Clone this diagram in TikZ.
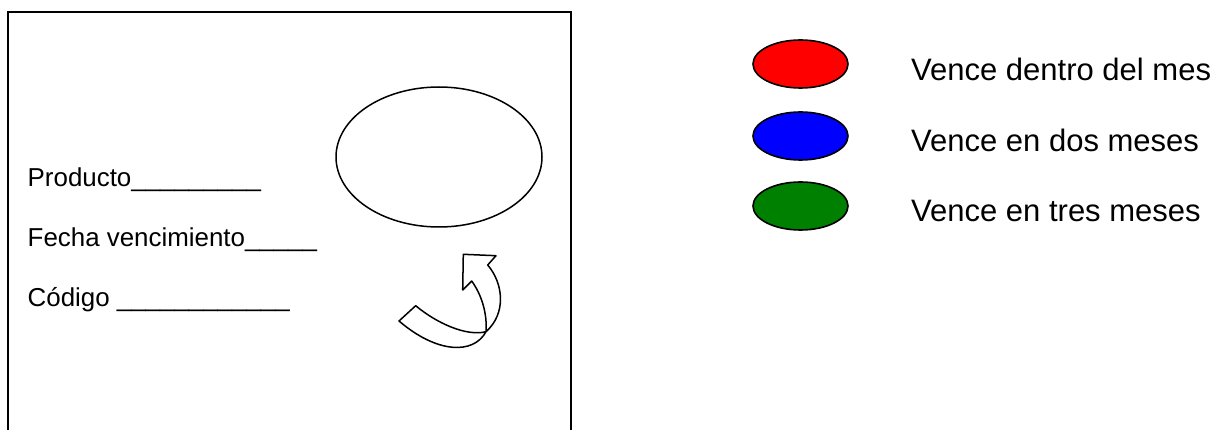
\documentclass[tikz,border=0pt]{standalone}
\usepackage{fontspec}
\setmainfont{Liberation Sans}
\usetikzlibrary{shapes.geometric}
\tikzset{
  lefttext/.style={anchor=base west, inner sep=0pt, font=\fontsize{25.9}{30}\selectfont},
  legtext/.style={anchor=base west, inner sep=0pt, font=\fontsize{31}{36}\selectfont},
  legdot/.style={ellipse, draw=black, line width=1.6pt, minimum width=95pt, minimum height=48pt, inner sep=0pt},
  bigoval/.style={ellipse, draw=black, line width=1.5pt, minimum width=206pt, minimum height=140pt, inner sep=0pt},
  frame/.style={draw=black, line width=2pt},
  arrowshape/.style={draw=black, line width=1.5pt, line join=round, fill=white}
}
\definecolor{legred}{RGB}{255,0,0}
\definecolor{legblue}{RGB}{0,0,255}
\definecolor{leggreen}{RGB}{0,128,0}
\begin{document}
\begin{tikzpicture}[x=1pt,y=-1pt]
\useasboundingbox (0,0) rectangle (1218,430);
% card frame (open at the bottom)
\draw[frame] (8,440) -- (8,12) -- (571,12) -- (571,440);
% fields
\node[lefttext] (prod) at (27.5,187) {Producto\_\_\_\_\_\_\_\_\_};
\node[lefttext] (fecha) at (27.5,247) {Fecha vencimiento\_\_\_\_\_};
\node[lefttext] (cod) at (27.5,306) {Código \_\_\_\_\_\_\_\_\_\_\_\_};
% big oval
\node[bigoval] (oval) at (439,157) {};
% curved arrow
\coordinate (A) at (399.0,321.0);
\coordinate (B) at (415.7,305.7);
\coordinate (P) at (486.0,331.7);
\coordinate (IN) at (471.7,281.0);
\coordinate (HBL) at (462.7,290.0);
\coordinate (HTL) at (463.3,254.3);
\coordinate (HTR) at (496.0,255.7);
\coordinate (ON) at (487.7,265.0);
\path[arrowshape] (A) -- (B)
  .. controls (436.7,323.3) and (466.7,336.7) .. (P)
  .. controls (487.3,313.3) and (481.7,295.0) .. (IN)
  -- (HBL) -- (HTL) -- (HTR) -- (ON)
  .. controls (503.3,283.3) and (506.7,313.3) .. (P)
  .. controls (473.3,355.0) and (436.7,353.3) .. (A) -- cycle;
% legend
\node[legdot, fill=legred] (dred) at (800.5,64) {};
\node[legdot, fill=legblue] (dblue) at (800.5,136) {};
\node[legdot, fill=leggreen] (dgreen) at (800.5,206) {};
\node[legtext] (tred) at (911,81) {Vence dentro del mes};
\node[legtext] (tblue) at (911,152) {Vence en dos meses};
\node[legtext] (tgreen) at (911,222) {Vence en tres meses};
\end{tikzpicture}
\end{document}
